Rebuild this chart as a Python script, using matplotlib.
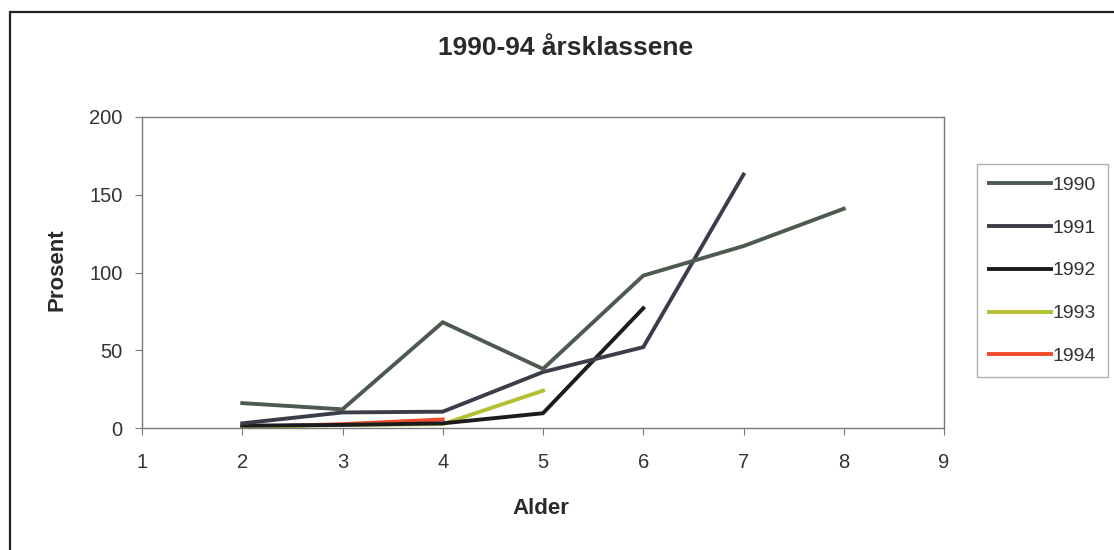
import matplotlib.pyplot as plt
from matplotlib.patches import Rectangle

plt.rcParams['font.family'] = ['Liberation Sans', 'DejaVu Sans']

# Prosent per alder for hver årsklasse
alder_1990 = [2, 3, 4, 5, 6, 7, 8]
pst_1990 = [16, 12, 68, 38, 98, 117, 141]
alder_1991 = [2, 3, 4, 5, 6, 7]
pst_1991 = [3, 10, 10.5, 36, 52, 163]
alder_1992 = [2, 3, 4, 5, 6]
pst_1992 = [1.5, 2, 3, 9.5, 77]
alder_1993 = [2, 3, 4, 5]
pst_1993 = [0.5, 2, 2.5, 24]
alder_1994 = [2, 3, 4]
pst_1994 = [0.5, 2.5, 5.5]

serier = ['1990', '1991', '1992', '1993', '1994']
farger = ['#4d5a4f', '#3b3e4a', '#1c1c1e', '#b3c033', '#f04b2b']
xticks = [1, 2, 3, 4, 5, 6, 7, 8, 9]
yticks = [0, 50, 100, 150, 200]

fig = plt.figure(figsize=(11.14, 5.5), dpi=100)
fig.patch.set_facecolor('white')

# ramme rundt hele diagrammet
fig.patches.append(Rectangle((10 / 1114, -0.05), 1.2, 1.05 - 12 / 550,
                             transform=fig.transFigure, fill=False,
                             edgecolor='#222222', linewidth=1.6))

ax = fig.add_axes([142 / 1114, 122 / 550, 802 / 1114, 311 / 550])

data = [(alder_1990, pst_1990), (alder_1991, pst_1991), (alder_1992, pst_1992),
        (alder_1993, pst_1993), (alder_1994, pst_1994)]
# tegn de siste seriene først så de eldste ligger over
for (x, y), navn, farge in reversed(list(zip(data, serier, farger))):
    ax.plot(x, y, color=farge, linewidth=2.8, label=navn, solid_joinstyle='miter')

ax.set_xlim(1, 9)
ax.set_ylim(0, 200)
ax.set_xticks(xticks)
ax.set_yticks(yticks)
for s in ax.spines.values():
    s.set_color('#7a7a7a')
    s.set_linewidth(1.0)
ax.tick_params(direction='out', length=5, color='#7a7a7a', labelsize=14.5,
               labelcolor='#333333')
ax.tick_params(axis='x', pad=13)
ax.tick_params(axis='y', pad=9)

fig.text(566 / 1114, 1 - 48 / 550, '1990-94 årsklassene',
         fontsize=19, fontweight='bold', color='#2a2a2a', ha='center', va='center')
ax.set_xlabel('Alder', fontsize=16, fontweight='bold', color='#2a2a2a', va='center')
ax.xaxis.set_label_coords((541 - 142) / 802, (428 - 508) / 311)
ax.set_ylabel('Prosent', fontsize=16, fontweight='bold', color='#2a2a2a', va='center')
ax.yaxis.set_label_coords((57 - 142) / 802, (428 - 270) / 311)

handles, labels = ax.get_legend_handles_labels()
leg = ax.legend(handles[::-1], labels[::-1], loc='center left',
                bbox_to_anchor=(1.041, 0.506), borderaxespad=0, fontsize=14,
                frameon=True, fancybox=False, edgecolor='#9a9a9a',
                handlelength=3.2, handletextpad=0.1, labelspacing=1.3,
                borderpad=0.6)
leg.get_frame().set_linewidth(1.0)
for t in leg.get_texts():
    t.set_color('#333333')

fig.savefig('out.png', dpi=100)
